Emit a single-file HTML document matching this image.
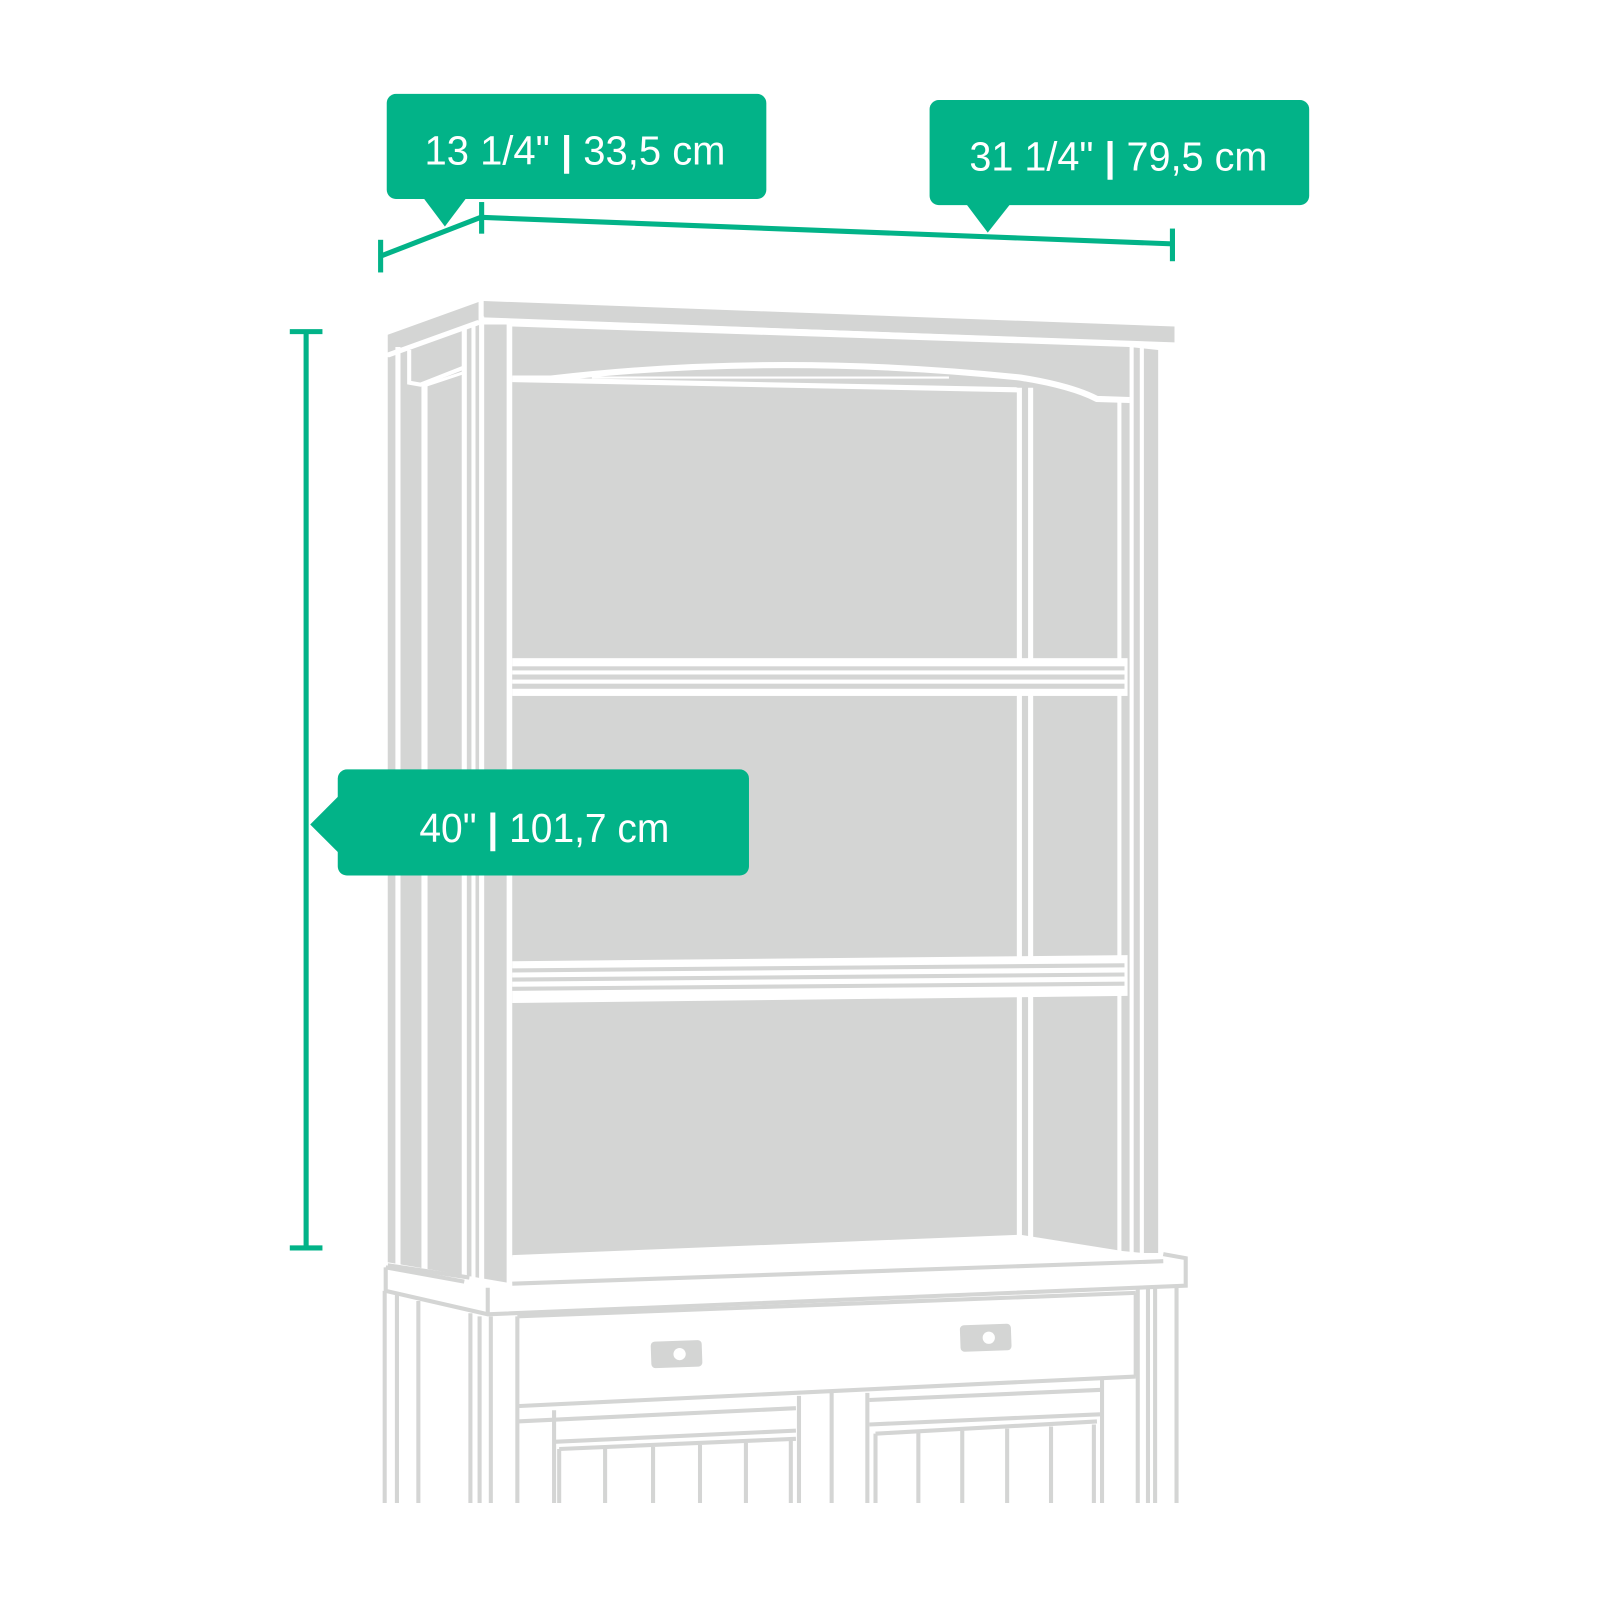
<!DOCTYPE html>
<html><head><meta charset="utf-8"><style>
html,body{margin:0;padding:0;background:#fff;}
svg{display:block;}
text{font-family:"Liberation Sans","DejaVu Sans",sans-serif;fill:#fff;font-weight:500;}
</style></head><body>
<svg width="1600" height="1600" viewBox="0 0 1568 1568" xmlns="http://www.w3.org/2000/svg">
<g fill="#d4d5d4">
  <polygon points="474,295 1151,320 1151,336 474,311"/>
  <polygon points="380,328 469,296 469,314 380,346"/>
  <polygon points="380,350 469,318 497,318 497,1257 380,1237"/>
  <polygon points="502,320 1107,340 1107,1228 502,1232"/>
  <polygon points="1107,340 1135,343 1135,1228 1107,1228"/>
</g>
<g stroke="#fff" fill="none">
  <line x1="390" y1="340" x2="390" y2="1240" stroke-width="5"/>
  <line x1="416" y1="375" x2="416" y2="1245" stroke-width="6"/>
  <line x1="455" y1="320" x2="455" y2="1255" stroke-width="5"/>
  <line x1="464" y1="318" x2="464" y2="1255" stroke-width="4"/>
  <line x1="472" y1="310" x2="472" y2="1258" stroke-width="5"/>
  <line x1="499" y1="315" x2="499" y2="1260" stroke-width="5"/>
  <polyline points="401,343 401,375 412,377 455,360" stroke-width="4"/>
  <line x1="416" y1="378" x2="455" y2="365" stroke-width="3"/>
  <line x1="380" y1="348" x2="469" y2="316" stroke-width="5"/>
  <line x1="474" y1="314" x2="1151" y2="338" stroke-width="5"/>
  <path d="M502,371 L540,371 Q760,345 1000,370 Q1050,378 1075,391 L1107,392" stroke-width="6"/>
  <line x1="502" y1="372" x2="997" y2="382" stroke-width="5"/>
  <line x1="580" y1="370" x2="930" y2="370" stroke-width="2"/>
  <line x1="999" y1="380" x2="999" y2="1212" stroke-width="5"/>
  <line x1="1010" y1="380" x2="1010" y2="1214" stroke-width="5"/>
  <line x1="1097" y1="392" x2="1097" y2="1226" stroke-width="4"/>
  <line x1="1109" y1="340" x2="1109" y2="1228" stroke-width="4"/>
  <line x1="1119" y1="340" x2="1119" y2="1228" stroke-width="4"/>
</g>
<g>
  <rect x="502" y="645" width="603" height="37" fill="#fff"/>
  <g fill="#d4d5d4">
    <rect x="502" y="653" width="600" height="4"/>
    <rect x="502" y="661" width="600" height="5"/>
    <rect x="502" y="670" width="600" height="5"/>
  </g>
  <polygon points="502,942 1105,936 1105,976 502,983" fill="#fff"/>
  <g stroke="#d4d5d4" stroke-width="4">
    <line x1="502" y1="951" x2="1102" y2="946"/>
    <line x1="502" y1="960" x2="1102" y2="955"/>
    <line x1="502" y1="969" x2="1102" y2="964"/>
  </g>
  <polygon points="502,1230 1000,1210 1100,1226 1140,1230 1140,1236 502,1260" fill="#fff"/>
</g>
<g stroke="#d4d5d4" stroke-width="4" fill="none">
  <polyline points="378,1242 378,1265 478,1288 1162,1260 1162,1233 1140,1229"/>
  <line x1="378" y1="1242" x2="455" y2="1256"/>
  <line x1="502" y1="1258" x2="1140" y2="1236"/>
  <line x1="478" y1="1288" x2="478" y2="1262"/>
  <line x1="380" y1="1240" x2="460" y2="1252"/>
  <line x1="377" y1="1265" x2="377" y2="1473"/>
  <line x1="389" y1="1268" x2="389" y2="1473"/>
  <line x1="410" y1="1275" x2="410" y2="1473"/>
  <line x1="461" y1="1287" x2="461" y2="1473"/>
  <line x1="470" y1="1290" x2="470" y2="1473"/>
  <line x1="481" y1="1290" x2="481" y2="1473"/>
  <line x1="507" y1="1290" x2="507" y2="1473"/>
  <line x1="1115" y1="1262" x2="1115" y2="1473"/>
  <line x1="1125" y1="1262" x2="1125" y2="1473"/>
  <line x1="1132" y1="1262" x2="1132" y2="1473"/>
  <line x1="1153" y1="1262" x2="1153" y2="1473"/>
  <line x1="507" y1="1290" x2="1113" y2="1267"/>
  <line x1="507" y1="1378" x2="1113" y2="1349"/>
  <line x1="1113" y1="1267" x2="1113" y2="1349"/>
  <line x1="507" y1="1393" x2="780" y2="1380"/>
  <line x1="543" y1="1382" x2="543" y2="1473"/>
  <line x1="783" y1="1368" x2="783" y2="1473"/>
  <line x1="815" y1="1365" x2="815" y2="1473"/>
  <line x1="850" y1="1365" x2="850" y2="1473"/>
  <line x1="1080" y1="1352" x2="1080" y2="1473"/>
  <line x1="543" y1="1413" x2="780" y2="1402"/>
  <line x1="548" y1="1420" x2="780" y2="1410"/>
  <line x1="852" y1="1372" x2="1080" y2="1362"/>
  <line x1="852" y1="1396" x2="1078" y2="1386"/>
  <line x1="858" y1="1405" x2="1075" y2="1393"/>
  <line x1="548" y1="1420" x2="548" y2="1473"/>
  <line x1="593" y1="1420" x2="593" y2="1473"/>
  <line x1="640" y1="1418" x2="640" y2="1473"/>
  <line x1="686" y1="1416" x2="686" y2="1473"/>
  <line x1="731" y1="1414" x2="731" y2="1473"/>
  <line x1="775" y1="1412" x2="775" y2="1473"/>
  <line x1="858" y1="1405" x2="858" y2="1473"/>
  <line x1="900" y1="1404" x2="900" y2="1473"/>
  <line x1="943" y1="1402" x2="943" y2="1473"/>
  <line x1="987" y1="1400" x2="987" y2="1473"/>
  <line x1="1030" y1="1398" x2="1030" y2="1473"/>
  <line x1="1072" y1="1396" x2="1072" y2="1473"/>
</g>
<g>
  <rect x="638" y="1314" width="50" height="26" rx="4" fill="#d4d5d4" transform="rotate(-2 663 1327)"/>
  <circle cx="666" cy="1327" r="6" fill="#fff"/>
  <rect x="941" y="1298" width="50" height="26" rx="4" fill="#d4d5d4" transform="rotate(-2 966 1311)"/>
  <circle cx="969" cy="1311" r="6" fill="#fff"/>
</g>
<g stroke="#02b388" stroke-width="5" fill="none">
  <line x1="373" y1="251" x2="471" y2="213"/>
  <line x1="471" y1="213" x2="1149" y2="239"/>
  <line x1="373" y1="235" x2="373" y2="267"/>
  <line x1="472" y1="198" x2="472" y2="229"/>
  <line x1="1149" y1="224" x2="1149" y2="256"/>
  <line x1="300" y1="325" x2="300" y2="1223"/>
  <line x1="284" y1="325" x2="316" y2="325"/>
  <line x1="284" y1="1223" x2="316" y2="1223"/>
</g>
<g fill="#02b388">
  <rect x="379" y="92" width="372" height="103" rx="9"/>
  <polygon points="415,194 457,194 436,222"/>
  <rect x="911" y="98" width="372" height="103" rx="9"/>
  <polygon points="947,200 990,200 968,228"/>
  <rect x="331" y="754" width="403" height="104" rx="9"/>
  <polygon points="332,780 304,808 332,836"/>
</g>
<text x="416" y="161" font-size="40" textLength="295" lengthAdjust="spacingAndGlyphs">13 1/4"  <tspan font-weight="bold">|</tspan>  33,5 cm</text>
<text x="950" y="167" font-size="40" textLength="292" lengthAdjust="spacingAndGlyphs">31 1/4"  <tspan font-weight="bold">|</tspan>  79,5 cm</text>
<text x="411" y="825" font-size="40" textLength="245" lengthAdjust="spacingAndGlyphs">40"  <tspan font-weight="bold">|</tspan>  101,7 cm</text>
</svg>
</body></html>
